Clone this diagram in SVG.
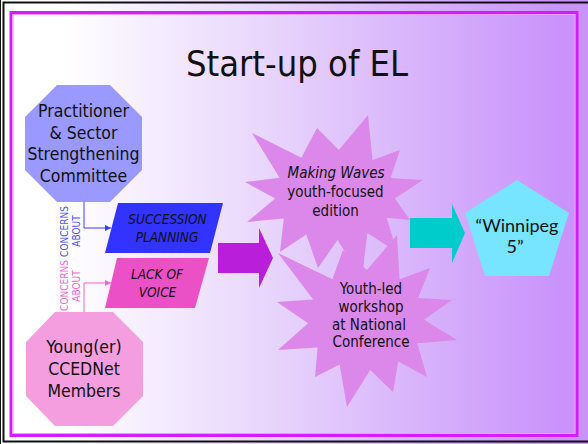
<svg xmlns="http://www.w3.org/2000/svg" width="588" height="444" viewBox="0 0 588 444">
<defs>
<linearGradient id="bg" gradientUnits="userSpaceOnUse" x1="60" y1="0" x2="560" y2="0">
<stop offset="0" stop-color="#ffffff"/>
<stop offset="0.45" stop-color="#e6d2fc"/>
<stop offset="1" stop-color="#c993fb"/>
</linearGradient>
<marker id="ab" viewBox="0 0 10 10" refX="10" refY="5" markerWidth="6" markerHeight="6" markerUnits="userSpaceOnUse" orient="auto"><path d="M0,0 L10,5 L0,10 z" fill="#3b3bff"/></marker>
<marker id="ap" viewBox="0 0 10 10" refX="10" refY="5" markerWidth="6" markerHeight="6" markerUnits="userSpaceOnUse" orient="auto"><path d="M0,0 L10,5 L0,10 z" fill="#ee66cc"/></marker>
</defs>
<style>
text{font-family:"DejaVu Sans Condensed","DejaVu Sans",sans-serif;font-stretch:condensed;fill:#111;text-anchor:middle}
.title{font-size:36px}
.oct{font-size:17.5px}
.star{font-size:15px}
.box{font-size:13.5px;font-style:italic}
.rot{font-size:10px}
.pent{font-family:Lato,"Open Sans",sans-serif;font-stretch:normal;font-size:18px}
.star-s{fill:#db88ea}
</style>
<rect x="0" y="0" width="588" height="444" fill="url(#bg)"/>
<path d="M588,2.5 H3.5 V441.5 H588" fill="none" stroke="#111" stroke-width="2"/>
<line x1="0.5" y1="0" x2="0.5" y2="444" stroke="#111" stroke-width="1"/>
<rect x="11" y="12.5" width="566" height="423" fill="none" stroke="#d61cff" stroke-width="3"/>
<rect x="13" y="14.5" width="562" height="419" fill="none" stroke="#e89cff" stroke-width="1"/>

<text class="title" x="297" y="76">Start-up of EL</text>

<g id="connectors">
<polyline points="84,202 84,228 111,228" fill="none" stroke="#3b3bff" stroke-width="1" marker-end="url(#ab)"/>
<polyline points="84,312 84,283 111,283" fill="none" stroke="#ee66cc" stroke-width="1" marker-end="url(#ap)"/>
<text class="rot" style="fill:#4d4dff" transform="translate(68,231.5) rotate(-90)">CONCERNS</text>
<text class="rot" style="fill:#4d4dff" transform="translate(80,231) rotate(-90)">ABOUT</text>
<text class="rot" style="fill:#ee66cc" transform="translate(68,285.5) rotate(-90)">CONCERNS</text>
<text class="rot" style="fill:#ee66cc" transform="translate(80,286) rotate(-90)">ABOUT</text>
</g>

<g id="committee">
<polygon points="57,85 110,85 142,117 142,170 110,202 57,202 25,170 25,117" fill="#9999ff"/>
<text class="oct" x="83.5" y="117">Practitioner</text>
<text class="oct" x="83.5" y="138.5">&amp; Sector</text>
<text class="oct" x="83.5" y="160">Strengthening</text>
<text class="oct" x="83.5" y="181.5">Committee</text>
</g>

<g id="members">
<polygon points="55,312 113,312 143,342 143,396 113,426 55,426 26,396 26,342" fill="#f49ddf"/>
<text class="oct" x="84" y="353">Young(er)</text>
<text class="oct" x="84" y="375">CCEDNet</text>
<text class="oct" x="84" y="397">Members</text>
</g>

<g id="succession">
<polygon points="118,203 223,203 210,253 105,253" fill="#3333ff"/>
<text class="box" x="167.5" y="224">SUCCESSION</text>
<text class="box" x="167" y="242">PLANNING</text>
</g>

<g id="voice">
<polygon points="117,258 209,258 195,308 105,308" fill="#ec50c6"/>
<text class="box" x="157" y="279">LACK OF</text>
<text class="box" x="157.5" y="297">VOICE</text>
</g>

<g id="arrow1">
<polygon points="218,243 259,243 259,228 273,258 259,288 259,273 218,273" fill="#b91edb"/>
</g>

<g id="making-waves">
<polygon class="star-s" points="252,133 301.4,157.7 317,128 338.9,150.1 368,115 372.6,160 400,150 390.6,178 423,180 394.8,198.4 410,220 386.7,217.8 397,252 367.4,232.9 362,278 337.5,240 318,268 306.3,234.5 280,252 283.8,218.5 247,222 275.2,198.5 245,182 279.6,177.8"/>
<text class="star" x="336" y="178" style="font-style:italic">Making Waves</text>
<text class="star" x="335.5" y="197">youth-focused</text>
<text class="star" x="335.5" y="215.5">edition</text>
</g>

<g id="workshop">
<polygon class="star-s" points="278,253 332.4,279.3 343,250 366.9,270 397,235 399.6,279.3 430,268 418.1,298 452,300 424,319.7 457,340 417.3,343.3 427,377 398.2,361.6 393,392 370.2,369.9 347,407 339.6,364.6 315,377 317.6,347.6 278,350 308.1,323.2 277,302 313.2,299.4"/>
<text class="star" x="371" y="294">Youth-led</text>
<text class="star" x="371" y="312">workshop</text>
<text class="star" x="369" y="329.5">at National</text>
<text class="star" x="371" y="347">Conference</text>
</g>

<g id="arrow2">
<polygon points="410,218 452,218 452,204 465,233 452,263 452,248 410,248" fill="#00cccc"/>
</g>

<g id="winnipeg">
<polygon points="517,180 569,213 549,276 485,276 465,213" fill="#77e5ff"/>
<text class="pent" x="517" y="232">“Winnipeg</text>
<text class="pent" x="515" y="253">5”</text>
</g>
</svg>
